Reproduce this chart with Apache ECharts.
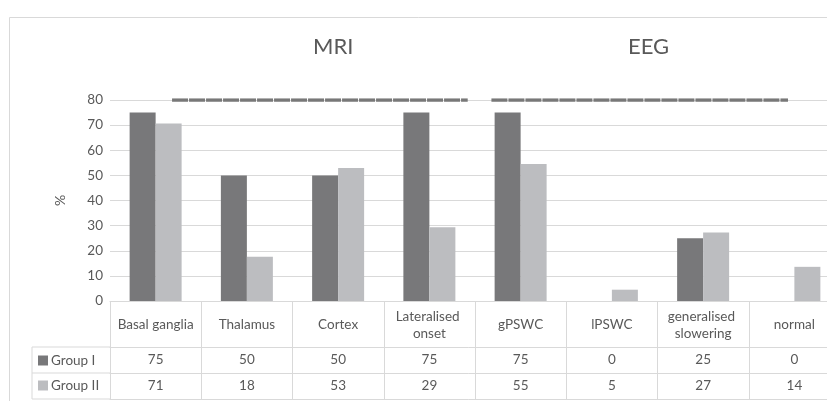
<!DOCTYPE html>
<html><head><meta charset="utf-8">
<script src="https://cdn.jsdelivr.net/npm/echarts@6/dist/echarts.min.js"></script>
<style>html,body{margin:0;padding:0;background:#fff;}#c{width:827px;height:401px;}</style>
</head><body><div id="c"></div>
<script>
const categories = ['Basal ganglia','Thalamus','Cortex','Lateralised onset','gPSWC','lPSWC','generalised slowering','normal'];
const groupI = [75, 50, 50, 75, 75, 0, 25, 0];
const groupII = [70.6, 17.6, 52.9, 29.4, 54.5, 4.5, 27.3, 13.6];
const groupILabels = ['75','50','50','75','75','0','25','0'];
const groupIILabels = ['71','18','53','29','55','5','27','14'];
const yTicks = [0,10,20,30,40,50,60,70,80];
const mriSpan = [[0.68, 80], [3.92, 80]];
const eegSpan = [[4.18, 80], [7.43, 80]];
const sectionTitles = ['MRI', 'EEG'];

const FONT = 'Lato';
const TXT = '#595959';
const LINE = '#d9d9d9';
const chart = echarts.init(document.getElementById('c'), null, {renderer: 'canvas'});

function tableAxis(offset, labels, tickLen, margin, showLabels) {
  return {
    type: 'category', data: categories, position: 'bottom', offset: offset,
    gridIndex: 0,
    axisLine: {show: true, lineStyle: {color: LINE, width: 1}},
    axisTick: {show: tickLen > 0, length: tickLen, lineStyle: {color: LINE, width: 1}},
    axisLabel: showLabels ? {
      show: true, interval: 0, margin: margin, verticalAlign: 'middle',
      color: TXT, fontFamily: FONT, fontSize: 13.5, width: 88, overflow: 'break',
      lineHeight: 17, hideOverlap: false,
      formatter: labels ? function (v, i) { return labels[i]; } : undefined
    } : {show: false},
    splitLine: {show: false}
  };
}

const option = {
  animation: false,
  backgroundColor: '#fff',
  title: [
    {text: sectionTitles[0], left: 313, top: 36, padding: 0, textStyle: {color: TXT, fontFamily: FONT, fontSize: 22, fontWeight: 'normal'}},
    {text: sectionTitles[1], left: 628, top: 36, padding: 0, textStyle: {color: TXT, fontFamily: FONT, fontSize: 22, fontWeight: 'normal'}}
  ],
  legend: {
    data: ['Group I', 'Group II'], orient: 'vertical', left: 38, top: 353.5,
    padding: 0, itemWidth: 10, itemHeight: 10, itemGap: 11, icon: 'rect',
    textStyle: {color: TXT, fontFamily: FONT, fontSize: 13.5, padding: [0,0,0,-2]}
  },
  grid: {left: 110, top: 100, height: 201, width: 730, containLabel: false, outerBoundsMode: 'none'},
  xAxis: [
    tableAxis(0, null, 46, 24, true),
    tableAxis(46, groupILabels, 26, 13, true),
    tableAxis(72, groupIILabels, 26, 13, true),
    tableAxis(98, null, 0, 0, false),
    {type: 'value', min: 0, max: 8, show: false, gridIndex: 0}
  ],
  yAxis: {
    type: 'value', min: yTicks[0], max: yTicks[yTicks.length - 1], interval: 10,
    name: '%', nameLocation: 'middle', nameGap: 43, nameRotate: 90,
    nameTextStyle: {color: TXT, fontFamily: FONT, fontSize: 14},
    axisLine: {show: false}, axisTick: {show: false},
    axisLabel: {color: TXT, fontFamily: FONT, fontSize: 13.5, margin: 7},
    splitLine: {lineStyle: {color: LINE, width: 1}}
  },
  series: [
    {name: 'Group I', type: 'bar', data: groupI, barWidth: 26, barGap: '0%',
     itemStyle: {color: '#78787a'}},
    {name: 'Group II', type: 'bar', data: groupII, barWidth: 26, barGap: '0%',
     itemStyle: {color: '#bcbdc0'}},
    {type: 'line', xAxisIndex: 4, data: mriSpan, symbol: 'none', silent: true,
     lineStyle: {color: '#787878', width: 3.5, type: [16, 1]}},
    {type: 'line', xAxisIndex: 4, data: eegSpan, symbol: 'none', silent: true,
     lineStyle: {color: '#787878', width: 3.5, type: [16, 1]}}
  ],
  graphic: [
    {type: 'rect', shape: {x: 9.5, y: 17.5, width: 900, height: 500}, style: {fill: 'none', stroke: LINE, lineWidth: 1}, silent: true},
    {type: 'line', shape: {x1: 32, y1: 347, x2: 110, y2: 347}, style: {stroke: LINE, lineWidth: 1}},
    {type: 'line', shape: {x1: 32, y1: 373, x2: 110, y2: 373}, style: {stroke: LINE, lineWidth: 1}},
    {type: 'line', shape: {x1: 32, y1: 399, x2: 110, y2: 399}, style: {stroke: LINE, lineWidth: 1}},
    {type: 'line', shape: {x1: 32, y1: 347, x2: 32, y2: 399}, style: {stroke: LINE, lineWidth: 1}}
  ]
};
chart.setOption(option);
</script>
</body></html>
